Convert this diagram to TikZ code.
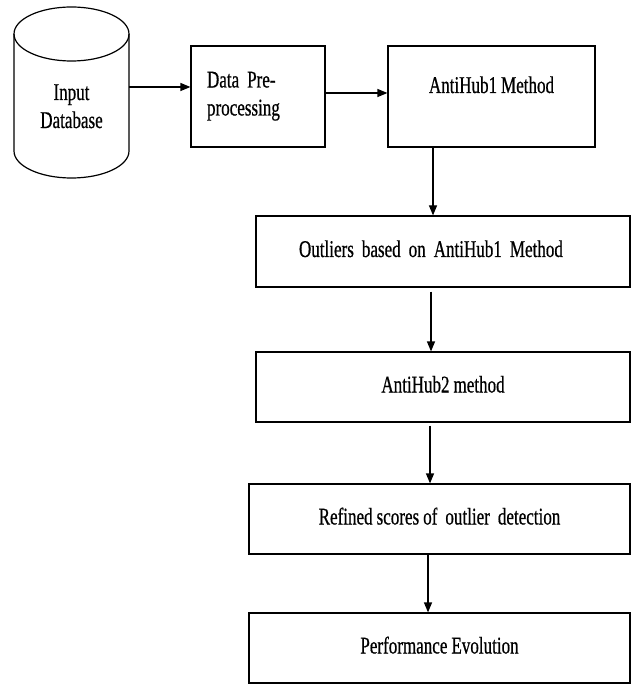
\documentclass[tikz,border=0pt]{standalone}
\usepackage{fontspec}
\setmainfont[FakeStretch=0.71, FakeBold=0.6]{Liberation Serif}
\usetikzlibrary{arrows.meta}
\newcommand{\boxfont}{\fontsize{24}{28}\selectfont\spaceskip=4pt\relax}

\begin{document}
\begin{tikzpicture}[x=1pt, y=-1pt, every node/.style={font=\boxfont}, box/.style={rectangle, draw, line width=1.2pt, inner sep=0pt, text height=16pt, text depth=5pt}, arr/.style={-{Triangle[length=10pt, width=8pt]}, line width=1.2pt}]
        % Fix the size of the page
        \useasboundingbox (0,0) rectangle (633,684);

        % Draw the database
        \draw[line width=1.2pt] (71.5,34) ellipse [x radius=57.5pt, y radius=27pt];
        \draw[line width=1.2pt] (14,34) -- (14,151) arc[start angle=180, end angle=360, x radius=57.5pt, y radius=27pt] -- (129,34);
        \node[inner sep=0pt, align=center, text height=44pt, text depth=5pt] (db) at (71.5,108.5) {Input\\Database};
        \coordinate (dbr) at (129,87);

        % Draw the boxes
        \node[box, minimum width=134pt, minimum height=101pt, text width=102pt, align=left, text depth=34pt] (pre) at (258,96.5) {Data Pre-\\processing};
        \node[box, minimum width=207pt, minimum height=101pt, text height=47pt, text depth=54pt] (ah1) at (491.5,96.5) {AntiHub1 Method};
        \node[box, minimum width=374pt, minimum height=71pt, text width=288pt, align=left] (out) at (443,251.5) {Outliers based on AntiHub1 Method};
        \node[box, minimum width=374pt, minimum height=70pt] (ah2) at (443,387) {AntiHub2 method};
        \node[box, minimum width=381pt, minimum height=70pt] (ref) at (439.5,519) {Refined scores of\ \ outlier\ \ detection};
        \node[box, minimum width=381pt, minimum height=70pt] (perf) at (439.5,648) {Performance Evolution};

        % Draw the arrows
        \draw[arr] (dbr) -- (dbr -| pre.west);
        \draw[arr] ([yshift=3.5pt]pre.east) -- ([yshift=3.5pt]ah1.west);
        \draw[arr] ([xshift=-58.5pt]ah1.south) -- ([xshift=-10pt]out.north);
        \draw[arr] ([xshift=-12pt, yshift=-4pt]out.south) -- ([xshift=-12pt]ah2.north);
        \draw[arr] ([xshift=-13pt, yshift=-3pt]ah2.south) -- ([xshift=-9.5pt]ref.north);
        \draw[arr] ([xshift=-11.5pt]ref.south) -- ([xshift=-11.5pt]perf.north);
      \end{tikzpicture}
\end{document}
